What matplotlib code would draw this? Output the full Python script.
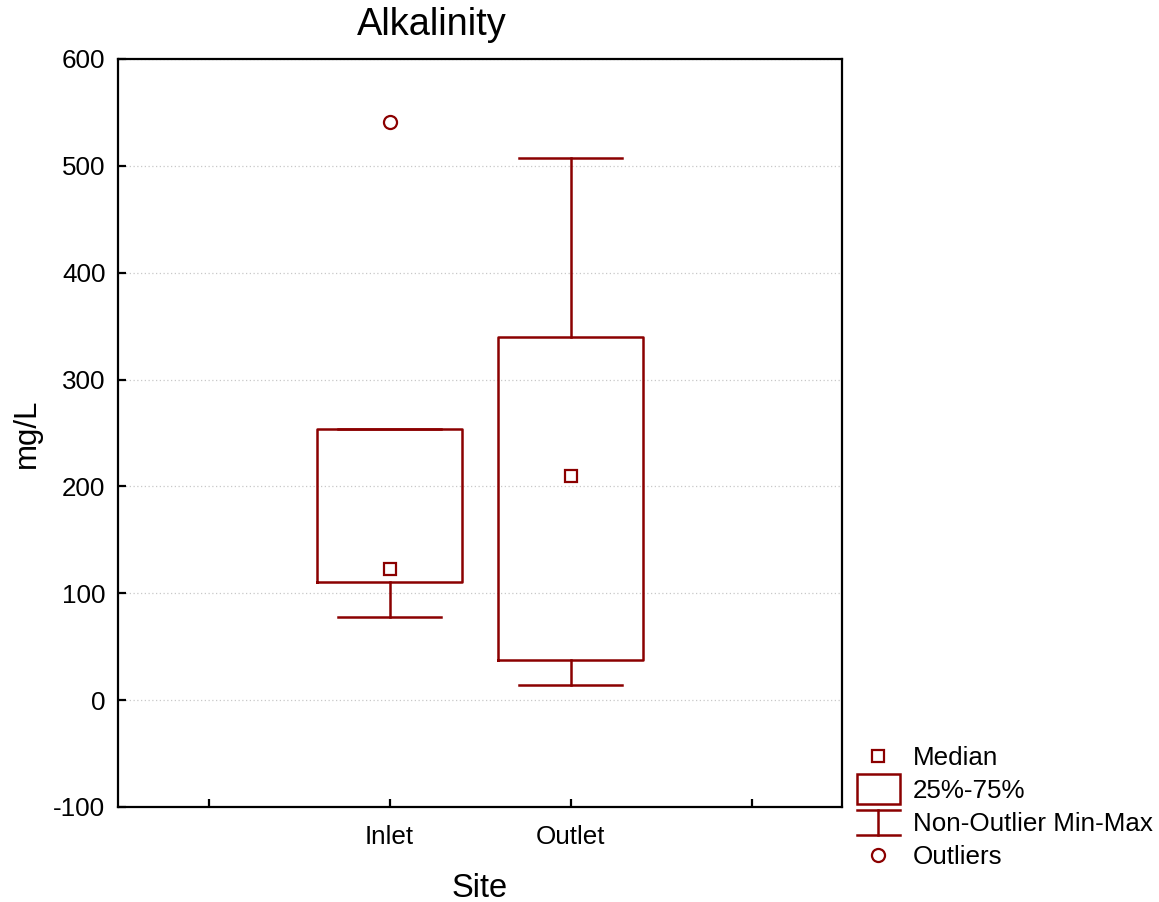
import matplotlib
matplotlib.use("Agg")
import matplotlib.pyplot as plt
from matplotlib.patches import Rectangle
from matplotlib.lines import Line2D
from matplotlib.legend_handler import HandlerBase

# Summary statistics per sampling site (mg/L)
sites = ["Inlet", "Outlet"]
site_pos = [2, 3]
whisker_lo = [78, 14]
q1 = [111, 38]
medians = [123, 210]
q3 = [254, 340]
whisker_hi = [254, 507]
outliers = [[541], []]

title = "Alkalinity"
y_label = "mg/L"
x_label = "Site"
y_ticks = [-100, 0, 100, 200, 300, 400, 500, 600]
x_ticks = [1, 2, 3, 4]
x_tick_labels = ["", "Inlet", "Outlet", ""]
legend_labels = ["Median", "25%-75%", "Non-Outlier Min-Max", "Outliers"]

RED = "#8b0000"
LW = 1.8
plt.rcParams['font.family'] = ['Liberation Sans', 'DejaVu Sans']
plt.rcParams['axes.unicode_minus'] = False

W, H = 1159, 902
fig = plt.figure(figsize=(W / 100, H / 100), dpi=100)
ax = fig.add_axes([118 / W, 1 - 807 / H, (842 - 118) / W, (807 - 59) / H])

stats = [dict(label=s, whislo=lo, q1=a, med=m, q3=b, whishi=hi, fliers=f)
         for s, lo, a, m, b, hi, f in zip(sites, whisker_lo, q1, medians, q3,
                                          whisker_hi, outliers)]
ax.bxp(stats, positions=site_pos, widths=0.8, capwidths=0.57, showfliers=True,
       boxprops=dict(color=RED, lw=LW),
       whiskerprops=dict(color=RED, lw=LW),
       capprops=dict(color=RED, lw=LW),
       medianprops=dict(lw=0),
       flierprops=dict(marker='o', mfc='white', mec=RED, ms=9.4, mew=1.6))
ax.plot(site_pos, medians, ls='none', marker='s', ms=8.4, mfc='white',
        mec=RED, mew=1.6, zorder=5)

ax.set_xlim(0.5, 4.5)
ax.set_ylim(-100, 600)
ax.set_xticks(x_ticks)
ax.set_xticklabels(x_tick_labels)
ax.set_yticks(y_ticks)
ax.yaxis.grid(True, ls=(0, (1, 2)), color='#c8c8c8', lw=0.9)
ax.set_axisbelow(True)
for sp in ax.spines.values():
    sp.set_linewidth(1.6)
ax.tick_params(direction='in', length=6, width=1.6, top=False, right=False,
               labelsize=18.7)
ax.tick_params(axis='x', pad=13)
ax.tick_params(axis='y', pad=9)

ax.set_xlabel(x_label, fontsize=23.5, labelpad=17)
ax.set_ylabel(y_label, fontsize=22.5, labelpad=8)
fig.text(432 / W, 1 - 25 / H, title, ha='center', va='center', fontsize=27.4)


class BoxLegend(HandlerBase):
    def create_artists(self, legend, orig, xdescent, ydescent, width, height,
                       fontsize, trans):
        h = 21.6
        y0 = -ydescent + height / 2 - h / 2
        return [Rectangle((-xdescent, y0), width, h, fc='white', ec=RED,
                          lw=LW, transform=trans)]


class WhiskerLegend(HandlerBase):
    def create_artists(self, legend, orig, xdescent, ydescent, width, height,
                       fontsize, trans):
        cy = -ydescent + height / 2
        half = 9.0
        x0 = -xdescent
        x1 = x0 + width
        xm = (x0 + x1) / 2
        kw = dict(color=RED, lw=LW, transform=trans)
        return [Line2D([x0, x1], [cy + half, cy + half], **kw),
                Line2D([x0, x1], [cy - half, cy - half], **kw),
                Line2D([xm, xm], [cy - half, cy + half], **kw)]


median_h = Line2D([], [], ls='none', marker='s', ms=8.4, mfc='white',
                  mec=RED, mew=1.6)
box_h = Rectangle((0, 0), 1, 1)
whisker_h = Line2D([], [])
outlier_h = Line2D([], [], ls='none', marker='o', ms=9.4, mfc='white',
                   mec=RED, mew=1.6)

fig.legend([median_h, box_h, whisker_h, outlier_h], legend_labels,
           loc='upper left', bbox_to_anchor=(857 / W, 1 - 746 / H),
           frameon=False, borderpad=0, borderaxespad=0, handlelength=1.65,
           handletextpad=0.5, labelspacing=0.35, fontsize=18.7, numpoints=1,
           handler_map={box_h: BoxLegend(), whisker_h: WhiskerLegend()})

fig.savefig("out.png", dpi=100)
